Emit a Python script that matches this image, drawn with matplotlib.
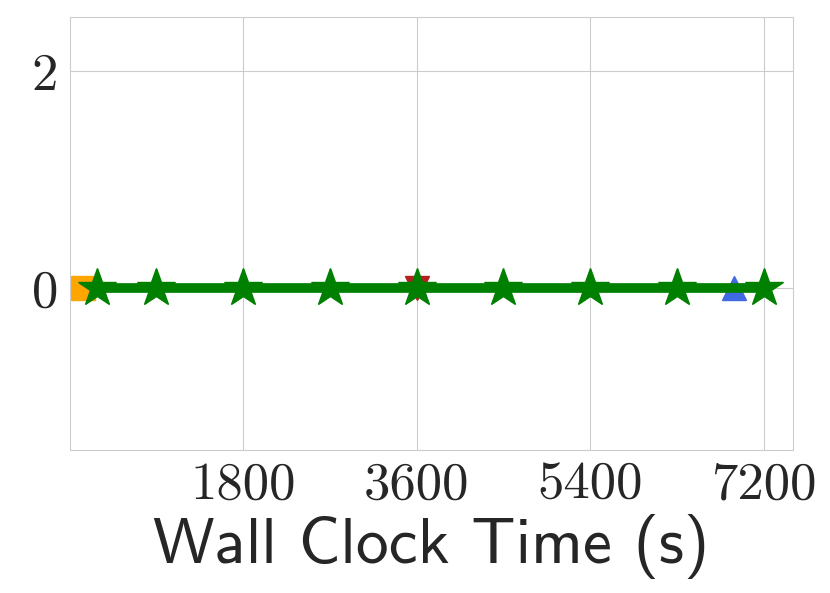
import matplotlib
matplotlib.use("Agg")
import matplotlib.pyplot as plt
import seaborn as sns

# Data (all methods sit at zero)
orange_x = [140]
orange_y = [0]
red_x = [3600]
red_y = [0]
blue_x = [6890]
blue_y = [0]
green_x = [285, 900, 1800, 2700, 3600, 4500, 5400, 6300, 7200]
green_y = [0, 0, 0, 0, 0, 0, 0, 0, 0]

x_ticks = [1800, 3600, 5400, 7200]
y_ticks = [0, 2]

sns.set_style("whitegrid")

fig = plt.figure(figsize=(8.3, 5.93), dpi=100)
ax = fig.add_axes([0.084, 0.241, 0.871, 0.730])

ax.plot(orange_x, orange_y, marker="s", color="orange", ms=17, lw=7, clip_on=False)
ax.plot(red_x, red_y, marker="v", color="firebrick", ms=17, lw=7)
ax.plot(blue_x, blue_y, marker="^", color="royalblue", ms=17, lw=7)
ax.plot(green_x, green_y, marker="*", color="green", ms=29, lw=7)

ax.set_xlim(0, 7500)
ax.set_ylim(-1.5, 2.5)
ax.set_xticks(x_ticks)
ax.set_xticklabels([str(t) for t in x_ticks], fontname="cmr10")
ax.set_yticks(y_ticks)
ax.set_yticklabels([str(t) for t in y_ticks], fontname="cmr10")
ax.tick_params(axis="both", labelsize=38, colors="#262626", pad=5)

ax.set_xlabel("Wall Clock Time (s)", fontname="cmss10", fontsize=47,
              color="#262626", labelpad=4)

for sp in ax.spines.values():
    sp.set_color("#cccccc")

fig.savefig("out.png", dpi=100)
